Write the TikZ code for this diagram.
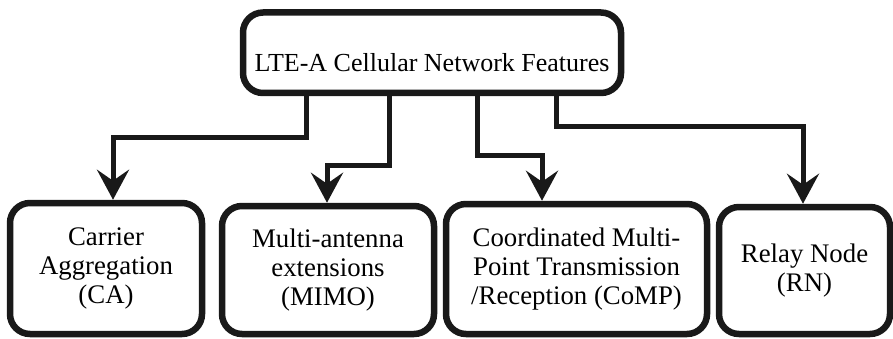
\documentclass[tikz,border=0pt]{standalone}
\usepackage{fontspec}
\setmainfont{Liberation Serif}
\usetikzlibrary{arrows.meta,calc}
\begin{document}
\begin{tikzpicture}[x=1pt,y=-1pt,
  boxstyle/.style={draw=black!90, line width=6.5pt, rounded corners=20pt, fill=white,
    inner sep=0pt, align=center, font=\fontsize{26.8}{29}\selectfont},
  conn/.style={draw=black!90, line width=5pt, -{Stealth[length=30pt,width=32pt,inset=11pt]}}
]
\useasboundingbox (0,0) rectangle (893,339);
\node[boxstyle, font=\fontsize{26}{29}\selectfont, minimum width=378pt, minimum height=80.5pt, text height=38.5pt, text depth=0pt]
  (top) at (432,52.75) {LTE-A Cellular Network Features};
\node[boxstyle, minimum width=192pt, minimum height=131pt] (b1) at (106,268.5)
  {Carrier\\Aggregation\\(CA)};
\node[boxstyle, minimum width=212pt, minimum height=128pt] (b2) at (328,270)
  {Multi-antenna\\extensions\\(MIMO)};
\node[boxstyle, minimum width=261pt, minimum height=130pt] (b3) at (576.5,269)
  {Coordinated Multi-\\Point Transmission\\/Reception (CoMP)};
\node[boxstyle, minimum width=171pt, minimum height=127pt] (b4) at (804.5,270.5)
  {Relay Node\\(RN)};
\coordinate (s1) at (306,0);
\coordinate (s2) at (389,0);
\coordinate (s3) at (477,0);
\coordinate (s4) at (556,0);
\coordinate (k1) at (113,138);
\coordinate (k2) at (327,166);
\coordinate (k3) at (542,156);
\coordinate (k4) at (803,127);
\draw[conn] (top.south -| s1) |- (k1) -- (k1 |- b1.north);
\draw[conn] (top.south -| s2) |- (k2) -- (k2 |- b2.north);
\draw[conn] (top.south -| s3) |- (k3) -- (k3 |- b3.north);
\draw[conn] (top.south -| s4) |- (k4) -- (k4 |- b4.north);
\end{tikzpicture}
\end{document}
